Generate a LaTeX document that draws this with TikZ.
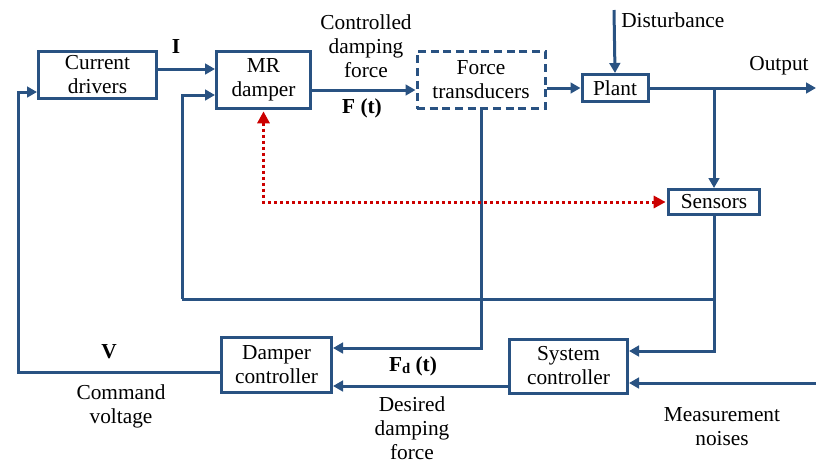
\documentclass[tikz,border=0pt]{standalone}
\usepackage{fontspec}
\setmainfont{LiberationSerif}[Extension=.ttf, UprightFont=*-Regular, BoldFont=*-Bold,
  ItalicFont=*-Italic, BoldItalicFont=*-BoldItalic]
\usetikzlibrary{arrows.meta, positioning, calc}
\definecolor{lineC}{RGB}{ 41,  82, 130}
\definecolor{dotC} {RGB}{204,   0,   0}
\tikzset{
  blk/.style  = {draw=lineC, line width=2.25pt, inner sep=0pt, align=center,
                 font=\rmfamily\fontsize{16}{18}\selectfont},
  dblk/.style = {blk, dash pattern=on 6pt off 3.5pt},
  arr/.style  = {-{Triangle[length=7.5pt, width=8pt]}, draw=lineC,
                 line width=2.25pt},
  wire/.style = {draw=lineC, line width=2.25pt},
  dots/.style = {{Triangle[length=9pt, width=9pt]}-{Triangle[length=9pt, width=9pt]},
                 draw=dotC, line width=2.25pt,
                 dash pattern=on 2.25pt off 2.25pt},
  lbl/.style  = {font=\rmfamily\fontsize{16}{18}\selectfont, align=center, inner sep=0pt},
  bl/.style   = {lbl, font=\rmfamily\fontsize{16}{18}\selectfont\bfseries},
}

\begin{document}
\begin{tikzpicture}[x=0.75pt, y=-0.75pt]

% ---- Frame (1 unit = 1 px of the 816x462 sheet) ---------------------------
\useasboundingbox (0,0) rectangle (816,462);

% ---- Blocks ---------------------------------------------------------------
\node[blk, minimum width=88.5pt, minimum height=35.25pt] (cur)   at (97.5, 75)  {Current\\drivers};
\node[blk, minimum width=70.5pt, minimum height=42.75pt] (mr)    at (263.5, 80) {MR\\damper};
\node[dblk, minimum width=96pt,  minimum height=42.75pt] (ft)    at (481, 80)   {Force\\transducers};
\node[blk, minimum width=49.5pt, minimum height=20.25pt] (plant) at (615, 88)   {Plant};
\node[blk, minimum width=68.25pt, minimum height=18.75pt] (sens) at (714, 202)  {Sensors};
\node[blk, minimum width=82.5pt, minimum height=41.25pt] (dc)    at (276.5, 365) {Damper\\controller};
\node[blk, minimum width=88.5pt, minimum height=40.5pt]  (sc)    at (568.5, 366) {System\\controller};

% free ends
\coordinate (dist)  at (614, 10);
\coordinate (outp)  at (816, 88);
\coordinate (noise) at (818, 383);
\coordinate (fbl)   at (182, 299);
\coordinate (lft)   at (18, 92);

% ---- Forward path ---------------------------------------------------------
\draw[arr] ([yshift=4.5pt]cur.east) -- ([yshift=8.25pt]mr.west);
\draw[arr] ([yshift=-7.5pt]mr.east) -- ([yshift=-7.5pt]ft.west);
\draw[arr] ([yshift=-6pt]ft.east) -- (plant.west);
\draw[arr] (dist) -- (plant.north);
\draw[arr] (plant.east) -- (outp);
\draw[arr] (sens.north |- plant.east) -- (sens.north);

% ---- Feedback paths -------------------------------------------------------
\draw[arr] (sens.south) |- ([yshift=11.25pt]sc.east);
\draw[wire] (sens.south |- fbl) -- (fbl);
\draw[arr] (fbl) |- ([yshift=-11.25pt]mr.west);
\draw[arr] (ft.south) |- ([yshift=12.75pt]dc.east);
\draw[arr] ([yshift=-15pt]sc.west) -- ([yshift=-15pt]sc.west -| dc.east);
\draw[arr] (noise) -- (noise -| sc.east);
\draw[arr] ([yshift=-5.25pt]dc.west) -| (lft) -- ([yshift=-12.75pt]cur.west);

% red dotted link MR damper <-> sensors
\draw[dots] ([yshift=-1pt]mr.south) |- ([xshift=-1pt]sens.west);

% ---- Labels ---------------------------------------------------------------
\node[bl]  (lI)    at (176, 47)  {I};
\node[lbl] (lcdf)  at (366, 46)  {Controlled\\damping\\force};
\node[bl]  (lF)    at (362, 108) {F (t)};
\node[lbl, anchor=west] (ldist) at (621, 20) {Disturbance};
\node[lbl] (lout)  at (779, 66)  {Output};
\node[bl]  (lV)    at (109, 352) {V};
\node[lbl] (lcv)   at (121, 406) {Command\\voltage};
\node[bl]  (lFd)   at (413, 366) {F{\fontsize{11}{11}\selectfont\raisebox{-1.5pt}{d}} (t)};
\node[lbl] (lddf)  at (412, 428) {Desired\\damping\\force};
\node[lbl] (lmn)   at (722, 427) {Measurement\\noises};

\end{tikzpicture}
\end{document}
